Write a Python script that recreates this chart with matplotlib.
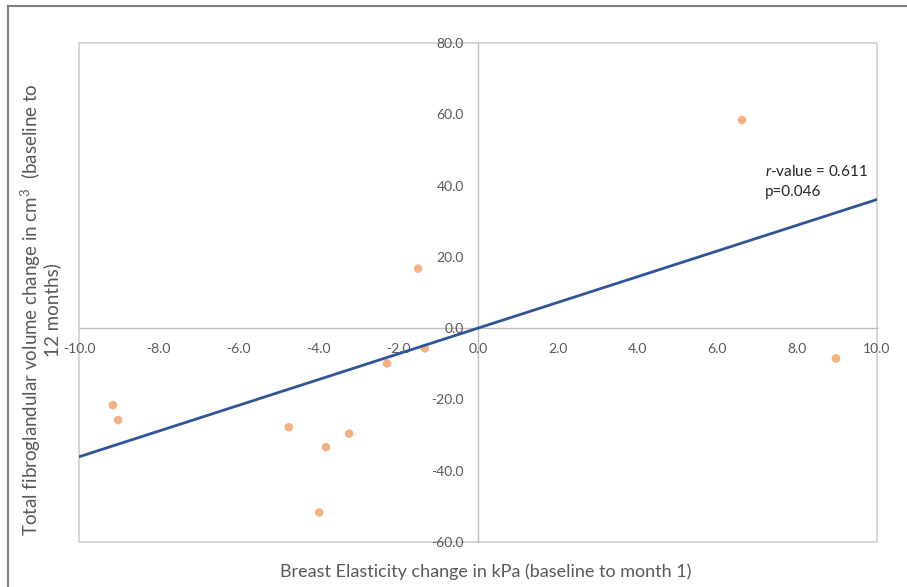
import matplotlib
matplotlib.use("Agg")
import matplotlib.pyplot as plt
import numpy as np
from matplotlib.patches import Rectangle
from matplotlib.lines import Line2D
from matplotlib.ticker import FormatStrFormatter

plt.rcParams.update({
    "font.family": ["Lato", "DejaVu Sans"],
    "mathtext.fontset": "custom",
    "mathtext.rm": "Lato",
    "mathtext.it": "Lato:italic",
})

# elasticity change (kPa) vs fibroglandular volume change (cm3)
elasticity = [6.62, -1.50, -1.33, -2.28, -9.15, -9.02, -4.74, -3.23, -3.81, -3.98, 8.97]
volume = [58.4, 16.7, -5.7, -9.9, -21.6, -25.8, -27.8, -29.6, -33.4, -51.7, -8.5]
x_ticks = [-10, -8, -6, -4, -2, 0, 2, 4, 6, 8, 10]
y_ticks = [-60, -40, -20, 0, 20, 40, 60, 80]
stats_text = "$\\it{r}$-value = 0.611\np=0.046"

GRID = "#bfbfbf"
TEXT = "#595959"

x = np.asarray(elasticity)
y = np.asarray(volume)
slope = np.sum(x * y) / np.sum(x * x)  # trend line forced through the origin

fig = plt.figure(figsize=(9.07, 5.87), dpi=100)
W, H = 907, 587
ax = fig.add_axes([79 / W, 1 - 542 / H, (877 - 79) / W, (542 - 43) / H])

ax.scatter(x, y, s=38, color="#f4b183", edgecolors="none", zorder=3)
line_x = np.array([x_ticks[0], x_ticks[-1]])
ax.plot(line_x, slope * line_x, color="#2f5597", linewidth=2.0, zorder=4)

ax.set_xlim(x_ticks[0], x_ticks[-1])
ax.set_ylim(y_ticks[0], y_ticks[-1])
ax.set_xticks(x_ticks)
ax.set_yticks(y_ticks)
ax.xaxis.set_major_formatter(FormatStrFormatter("%.1f"))
ax.yaxis.set_major_formatter(FormatStrFormatter("%.1f"))

for side in ("top", "right"):
    ax.spines[side].set_visible(False)
ax.spines["left"].set_position(("data", 0))
ax.spines["bottom"].set_position(("data", 0))
for side in ("left", "bottom"):
    ax.spines[side].set_color(GRID)
    ax.spines[side].set_linewidth(1.0)
    ax.spines[side].set_zorder(1)
ax.tick_params(axis="both", length=0, labelsize=10, labelcolor=TEXT)
ax.tick_params(axis="y", pad=10)
ax.tick_params(axis="x", pad=11)

# plot area border
ax.add_patch(Rectangle((0, 0), 1, 1, transform=ax.transAxes, fill=False,
                       edgecolor="#d0d0d0", linewidth=1.2, zorder=0, clip_on=False))

ax.text(7.19, 41.2, stats_text, fontsize=11, color="#262626",
        ha="left", va="center", linespacing=1.55)

fig.text(486 / W, 1 - 572 / H,
         "Breast Elasticity change in kPa (baseline to month 1)",
         fontsize=13, color=TEXT, ha="center", va="center")
fig.text(40 / W, 1 - 310 / H,
         "Total fibroglandular volume change in cm$^3$  (baseline to\n12 months)",
         fontsize=13.5, color=TEXT, ha="center", va="center", rotation=90,
         multialignment="center", linespacing=1.05)

# chart frame (left and top edges)
fig.add_artist(Line2D([8 / W, 8 / W], [0, 1 - 6 / H], transform=fig.transFigure,
                      color="#808080", linewidth=1.5))
fig.add_artist(Line2D([8 / W, 1], [1 - 6 / H, 1 - 6 / H], transform=fig.transFigure,
                      color="#808080", linewidth=1.5))

fig.savefig("out.png", dpi=100)
